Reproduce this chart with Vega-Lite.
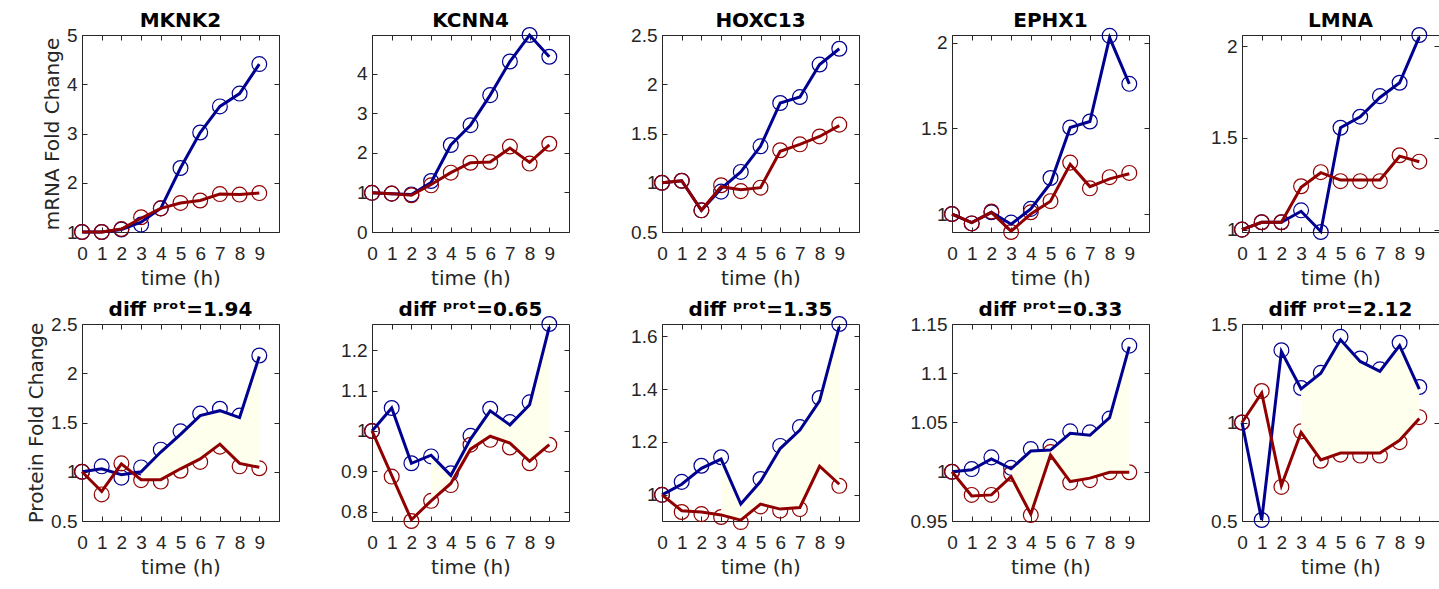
{
  "$schema": "https://vega.github.io/schema/vega-lite/v6.json",
  "padding": {"left": 26, "top": 10, "right": 5, "bottom": 5},
  "config": {
    "font": "Liberation Sans",
    "view": {"stroke": "#262626", "strokeWidth": 1},
    "axis": {
      "domain": false, "grid": false,
      "tickSize": -5, "tickColor": "#262626", "tickWidth": 1,
      "labelFont": "Liberation Sans", "labelFontSize": 19, "labelColor": "#262626",
      "titleFont": "DejaVu Sans", "titleFontSize": 20, "titleFontWeight": "normal", "titleColor": "#262626",
      "labelOverlap": false, "labelFlush": false
    },
    "axisX": {"titlePadding": 5, "labelPadding": 17},
    "axisY": {"titlePadding": 4, "labelPadding": 10},
    "title": {"font": "DejaVu Sans", "fontSize": 20, "fontWeight": "bold", "color": "#000000", "offset": -6}
  },
  "datasets": {
    "m1": [
      {"t":0,"b":1.0,"r":1.0,"bl":1.0,"rl":1.0},
      {"t":1,"b":1.0,"r":1.0,"bl":1.0,"rl":1.0},
      {"t":2,"b":1.05,"r":1.06,"bl":1.05,"rl":1.06},
      {"t":3,"b":1.15,"r":1.30,"bl":1.2,"rl":1.28},
      {"t":4,"b":1.48,"r":1.48,"bl":1.48,"rl":1.48},
      {"t":5,"b":2.30,"r":1.59,"bl":2.30,"rl":1.59},
      {"t":6,"b":3.02,"r":1.64,"bl":3.02,"rl":1.64},
      {"t":7,"b":3.55,"r":1.77,"bl":3.55,"rl":1.77},
      {"t":8,"b":3.81,"r":1.76,"bl":3.81,"rl":1.76},
      {"t":9,"b":4.41,"r":1.79,"bl":4.41,"rl":1.79}
    ],
    "m2": [
      {"t":0,"b":0.99,"r":0.99,"bl":0.99,"rl":0.99},
      {"t":1,"b":0.97,"r":0.97,"bl":0.97,"rl":0.97},
      {"t":2,"b":0.95,"r":0.93,"bl":0.95,"rl":0.93},
      {"t":3,"b":1.29,"r":1.18,"bl":1.25,"rl":1.2},
      {"t":4,"b":2.2,"r":1.50,"bl":2.2,"rl":1.50},
      {"t":5,"b":2.70,"r":1.75,"bl":2.70,"rl":1.75},
      {"t":6,"b":3.46,"r":1.77,"bl":3.46,"rl":1.77},
      {"t":7,"b":4.31,"r":2.16,"bl":4.31,"rl":2.12},
      {"t":8,"b":4.98,"r":1.73,"bl":4.98,"rl":1.76},
      {"t":9,"b":4.43,"r":2.23,"bl":4.43,"rl":2.2}
    ],
    "m3": [
      {"t":0,"b":1.0,"r":1.0,"bl":1.0,"rl":1.0},
      {"t":1,"b":1.02,"r":1.02,"bl":1.02,"rl":1.02},
      {"t":2,"b":0.72,"r":0.72,"bl":0.72,"rl":0.72},
      {"t":3,"b":0.91,"r":0.975,"bl":0.94,"rl":0.96},
      {"t":4,"b":1.11,"r":0.915,"bl":1.11,"rl":0.93},
      {"t":5,"b":1.37,"r":0.95,"bl":1.37,"rl":0.95},
      {"t":6,"b":1.81,"r":1.33,"bl":1.81,"rl":1.32},
      {"t":7,"b":1.87,"r":1.39,"bl":1.87,"rl":1.39},
      {"t":8,"b":2.2,"r":1.47,"bl":2.2,"rl":1.47},
      {"t":9,"b":2.36,"r":1.59,"bl":2.36,"rl":1.58}
    ],
    "m4": [
      {"t":0,"b":1.0,"r":1.0,"bl":1.0,"rl":1.0},
      {"t":1,"b":0.945,"r":0.945,"bl":0.95,"rl":0.95},
      {"t":2,"b":1.01,"r":1.015,"bl":1.01,"rl":1.01},
      {"t":3,"b":0.95,"r":0.895,"bl":0.94,"rl":0.9},
      {"t":4,"b":1.03,"r":1.01,"bl":1.03,"rl":1.0},
      {"t":5,"b":1.21,"r":1.075,"bl":1.18,"rl":1.075},
      {"t":6,"b":1.505,"r":1.30,"bl":1.505,"rl":1.29},
      {"t":7,"b":1.54,"r":1.15,"bl":1.54,"rl":1.16},
      {"t":8,"b":2.04,"r":1.215,"bl":2.03,"rl":1.205},
      {"t":9,"b":1.76,"r":1.24,"bl":1.76,"rl":1.235}
    ],
    "m5": [
      {"t":0,"b":1.0,"r":1.0,"bl":1.0,"rl":1.0},
      {"t":1,"b":1.04,"r":1.04,"bl":1.04,"rl":1.04},
      {"t":2,"b":1.04,"r":1.04,"bl":1.04,"rl":1.04},
      {"t":3,"b":1.105,"r":1.236,"bl":1.1,"rl":1.23},
      {"t":4,"b":0.987,"r":1.313,"bl":0.99,"rl":1.31},
      {"t":5,"b":1.555,"r":1.264,"bl":1.555,"rl":1.27},
      {"t":6,"b":1.615,"r":1.264,"bl":1.615,"rl":1.27},
      {"t":7,"b":1.727,"r":1.264,"bl":1.72,"rl":1.27},
      {"t":8,"b":1.80,"r":1.405,"bl":1.80,"rl":1.40},
      {"t":9,"b":2.06,"r":1.37,"bl":2.05,"rl":1.37}
    ],
    "p1": [
      {"t":0,"b":1.0,"r":1.0,"bl":1.0,"rl":1.0},
      {"t":1,"b":1.055,"r":0.77,"bl":1.03,"rl":0.80},
      {"t":2,"b":0.94,"r":1.085,"bl":0.97,"rl":1.08},
      {"t":3,"b":1.044,"r":0.915,"bl":1.0,"rl":0.92},
      {"t":4,"b":1.224,"r":0.9,"bl":1.2,"rl":0.92},
      {"t":5,"b":1.41,"r":1.01,"bl":1.38,"rl":1.03},
      {"t":6,"b":1.59,"r":1.1,"bl":1.57,"rl":1.13},
      {"t":7,"b":1.64,"r":1.255,"bl":1.62,"rl":1.28},
      {"t":8,"b":1.57,"r":1.055,"bl":1.55,"rl":1.085},
      {"t":9,"b":2.18,"r":1.035,"bl":2.17,"rl":1.045}
    ],
    "p2": [
      {"t":0,"b":1.0,"r":1.0,"bl":1.0,"rl":1.0},
      {"t":1,"b":1.057,"r":0.887,"bl":1.057,"rl":0.89},
      {"t":2,"b":0.92,"r":0.777,"bl":0.92,"rl":0.78},
      {"t":3,"b":0.937,"r":0.827,"bl":0.94,"rl":0.827},
      {"t":4,"b":0.895,"r":0.866,"bl":0.89,"rl":0.87},
      {"t":5,"b":0.988,"r":0.966,"bl":0.98,"rl":0.955},
      {"t":6,"b":1.055,"r":0.978,"bl":1.05,"rl":0.987},
      {"t":7,"b":1.022,"r":0.959,"bl":1.015,"rl":0.97},
      {"t":8,"b":1.071,"r":0.92,"bl":1.065,"rl":0.925},
      {"t":9,"b":1.265,"r":0.966,"bl":1.258,"rl":0.966}
    ],
    "p3": [
      {"t":0,"b":1.0,"r":1.0,"bl":1.0,"rl":1.0},
      {"t":1,"b":1.049,"r":0.935,"bl":1.04,"rl":0.94},
      {"t":2,"b":1.11,"r":0.927,"bl":1.10,"rl":0.935},
      {"t":3,"b":1.142,"r":0.916,"bl":1.135,"rl":0.924},
      {"t":4,"b":null,"r":0.897,"bl":0.965,"rl":0.904},
      {"t":5,"b":1.06,"r":0.956,"bl":1.05,"rl":0.965},
      {"t":6,"b":1.185,"r":0.94,"bl":1.175,"rl":0.946},
      {"t":7,"b":1.256,"r":0.946,"bl":1.245,"rl":0.952},
      {"t":8,"b":1.366,"r":null,"bl":1.355,"rl":1.108},
      {"t":9,"b":1.646,"r":1.034,"bl":1.636,"rl":1.04}
    ],
    "p4": [
      {"t":0,"b":1.0,"r":1.0,"bl":1.0,"rl":1.0},
      {"t":1,"b":1.0027,"r":0.9765,"bl":1.002,"rl":0.9755},
      {"t":2,"b":1.0146,"r":0.9765,"bl":1.013,"rl":0.9765},
      {"t":3,"b":1.004,"r":0.998,"bl":1.003,"rl":0.995},
      {"t":4,"b":1.023,"r":0.956,"bl":1.021,"rl":0.957},
      {"t":5,"b":1.0255,"r":1.02,"bl":1.022,"rl":1.017},
      {"t":6,"b":1.041,"r":0.989,"bl":1.039,"rl":0.99},
      {"t":7,"b":1.04,"r":0.9915,"bl":1.037,"rl":0.9935},
      {"t":8,"b":1.054,"r":0.9995,"bl":1.055,"rl":0.9995},
      {"t":9,"b":1.128,"r":0.9995,"bl":1.127,"rl":0.9995}
    ],
    "p5": [
      {"t":0,"b":1.0,"r":1.0,"bl":1.0,"rl":1.0},
      {"t":1,"b":0.505,"r":1.16,"bl":0.505,"rl":1.15},
      {"t":2,"b":1.367,"r":0.673,"bl":1.36,"rl":0.68},
      {"t":3,"b":1.175,"r":0.955,"bl":1.17,"rl":0.95},
      {"t":4,"b":1.252,"r":0.806,"bl":1.25,"rl":0.81},
      {"t":5,"b":1.435,"r":0.837,"bl":1.42,"rl":0.845},
      {"t":6,"b":1.325,"r":0.832,"bl":1.31,"rl":0.845},
      {"t":7,"b":1.27,"r":0.832,"bl":1.26,"rl":0.845},
      {"t":8,"b":1.405,"r":0.90,"bl":1.39,"rl":0.91},
      {"t":9,"b":1.18,"r":1.027,"bl":1.17,"rl":1.02}
    ]
  },
  "columns": 5,
  "spacing": {"row": 92, "column": 93},
  "bounds": "flush",
  "concat": [
    {
      "width": 197, "height": 197, "data": {"name": "m1"}, "title": "MKNK2",
      "resolve": {"axis": {"x": "independent", "y": "independent"}},
      "layer": [
        {"mark": {"type": "point", "shape": "circle", "filled": false, "size": 220, "strokeWidth": 1.2, "color": "#000090", "opacity": 1},
         "encoding": {"x": {"field": "t", "type": "quantitative", "scale": {"domain": [0, 10], "nice": false}, "axis": {"orient": "bottom", "values": [0,1,2,3,4,5,6,7,8,9], "title": "time (h)", "format": "~g"}},
                      "y": {"field": "b", "type": "quantitative", "scale": {"domain": [1, 5], "nice": false, "zero": false}, "axis": {"orient": "left", "values": [1,2,3,4,5], "title": "mRNA Fold Change", "format": "~g"}}}},
        {"mark": {"type": "point", "shape": "circle", "filled": false, "size": 220, "strokeWidth": 1.2, "color": "#900000", "opacity": 1},
         "encoding": {"x": {"field": "t", "type": "quantitative", "axis": null}, "y": {"field": "r", "type": "quantitative", "axis": null}}},
        {"mark": {"type": "line", "color": "#000090", "strokeWidth": 3}, "encoding": {"x": {"field": "t", "type": "quantitative", "axis": null}, "y": {"field": "bl", "type": "quantitative", "axis": null}}},
        {"mark": {"type": "line", "color": "#900000", "strokeWidth": 3}, "encoding": {"x": {"field": "t", "type": "quantitative", "axis": null}, "y": {"field": "rl", "type": "quantitative", "axis": null}}},
        {"mark": {"type": "point", "opacity": 0}, "encoding": {"x": {"field": "t", "type": "quantitative", "axis": {"orient": "top", "values": [0,1,2,3,4,5,6,7,8,9], "labels": false, "title": null, "minExtent": 10, "maxExtent": 10}}, "y": {"field": "b", "type": "quantitative", "axis": {"orient": "right", "values": [1,2,3,4,5], "labels": false, "title": null}}}}
      ]
    },
    {
      "width": 197, "height": 197, "data": {"name": "m2"}, "title": "KCNN4",
      "resolve": {"axis": {"x": "independent", "y": "independent"}},
      "layer": [
        {"mark": {"type": "point", "shape": "circle", "filled": false, "size": 220, "strokeWidth": 1.2, "color": "#000090", "opacity": 1},
         "encoding": {"x": {"field": "t", "type": "quantitative", "scale": {"domain": [0, 10], "nice": false}, "axis": {"orient": "bottom", "values": [0,1,2,3,4,5,6,7,8,9], "title": "time (h)", "format": "~g"}},
                      "y": {"field": "b", "type": "quantitative", "scale": {"domain": [0, 4.98], "nice": false, "zero": false}, "axis": {"orient": "left", "values": [0,1,2,3,4], "title": null, "format": "~g"}}}},
        {"mark": {"type": "point", "shape": "circle", "filled": false, "size": 220, "strokeWidth": 1.2, "color": "#900000", "opacity": 1},
         "encoding": {"x": {"field": "t", "type": "quantitative", "axis": null}, "y": {"field": "r", "type": "quantitative", "axis": null}}},
        {"mark": {"type": "line", "color": "#000090", "strokeWidth": 3}, "encoding": {"x": {"field": "t", "type": "quantitative", "axis": null}, "y": {"field": "bl", "type": "quantitative", "axis": null}}},
        {"mark": {"type": "line", "color": "#900000", "strokeWidth": 3}, "encoding": {"x": {"field": "t", "type": "quantitative", "axis": null}, "y": {"field": "rl", "type": "quantitative", "axis": null}}},
        {"mark": {"type": "point", "opacity": 0}, "encoding": {"x": {"field": "t", "type": "quantitative", "axis": {"orient": "top", "values": [0,1,2,3,4,5,6,7,8,9], "labels": false, "title": null, "minExtent": 10, "maxExtent": 10}}, "y": {"field": "b", "type": "quantitative", "axis": {"orient": "right", "values": [0,1,2,3,4], "labels": false, "title": null}}}}
      ]
    },
    {
      "width": 197, "height": 197, "data": {"name": "m3"}, "title": "HOXC13",
      "resolve": {"axis": {"x": "independent", "y": "independent"}},
      "layer": [
        {"mark": {"type": "point", "shape": "circle", "filled": false, "size": 220, "strokeWidth": 1.2, "color": "#000090", "opacity": 1},
         "encoding": {"x": {"field": "t", "type": "quantitative", "scale": {"domain": [0, 10], "nice": false}, "axis": {"orient": "bottom", "values": [0,1,2,3,4,5,6,7,8,9], "title": "time (h)", "format": "~g"}},
                      "y": {"field": "b", "type": "quantitative", "scale": {"domain": [0.5, 2.5], "nice": false, "zero": false}, "axis": {"orient": "left", "values": [0.5,1,1.5,2,2.5], "title": null, "format": "~g"}}}},
        {"mark": {"type": "point", "shape": "circle", "filled": false, "size": 220, "strokeWidth": 1.2, "color": "#900000", "opacity": 1},
         "encoding": {"x": {"field": "t", "type": "quantitative", "axis": null}, "y": {"field": "r", "type": "quantitative", "axis": null}}},
        {"mark": {"type": "line", "color": "#000090", "strokeWidth": 3}, "encoding": {"x": {"field": "t", "type": "quantitative", "axis": null}, "y": {"field": "bl", "type": "quantitative", "axis": null}}},
        {"mark": {"type": "line", "color": "#900000", "strokeWidth": 3}, "encoding": {"x": {"field": "t", "type": "quantitative", "axis": null}, "y": {"field": "rl", "type": "quantitative", "axis": null}}},
        {"mark": {"type": "point", "opacity": 0}, "encoding": {"x": {"field": "t", "type": "quantitative", "axis": {"orient": "top", "values": [0,1,2,3,4,5,6,7,8,9], "labels": false, "title": null, "minExtent": 10, "maxExtent": 10}}, "y": {"field": "b", "type": "quantitative", "axis": {"orient": "right", "values": [0.5,1,1.5,2,2.5], "labels": false, "title": null}}}}
      ]
    },
    {
      "width": 197, "height": 197, "data": {"name": "m4"}, "title": "EPHX1",
      "resolve": {"axis": {"x": "independent", "y": "independent"}},
      "layer": [
        {"mark": {"type": "point", "shape": "circle", "filled": false, "size": 220, "strokeWidth": 1.2, "color": "#000090", "opacity": 1},
         "encoding": {"x": {"field": "t", "type": "quantitative", "scale": {"domain": [0, 10], "nice": false}, "axis": {"orient": "bottom", "values": [0,1,2,3,4,5,6,7,8,9], "title": "time (h)", "format": "~g"}},
                      "y": {"field": "b", "type": "quantitative", "scale": {"domain": [0.895, 2.045], "nice": false, "zero": false}, "axis": {"orient": "left", "values": [1,1.5,2], "title": null, "format": "~g"}}}},
        {"mark": {"type": "point", "shape": "circle", "filled": false, "size": 220, "strokeWidth": 1.2, "color": "#900000", "opacity": 1},
         "encoding": {"x": {"field": "t", "type": "quantitative", "axis": null}, "y": {"field": "r", "type": "quantitative", "axis": null}}},
        {"mark": {"type": "line", "color": "#000090", "strokeWidth": 3}, "encoding": {"x": {"field": "t", "type": "quantitative", "axis": null}, "y": {"field": "bl", "type": "quantitative", "axis": null}}},
        {"mark": {"type": "line", "color": "#900000", "strokeWidth": 3}, "encoding": {"x": {"field": "t", "type": "quantitative", "axis": null}, "y": {"field": "rl", "type": "quantitative", "axis": null}}},
        {"mark": {"type": "point", "opacity": 0}, "encoding": {"x": {"field": "t", "type": "quantitative", "axis": {"orient": "top", "values": [0,1,2,3,4,5,6,7,8,9], "labels": false, "title": null, "minExtent": 10, "maxExtent": 10}}, "y": {"field": "b", "type": "quantitative", "axis": {"orient": "right", "values": [1,1.5,2], "labels": false, "title": null}}}}
      ]
    },
    {
      "width": 197, "height": 197, "data": {"name": "m5"}, "title": "LMNA",
      "resolve": {"axis": {"x": "independent", "y": "independent"}},
      "layer": [
        {"mark": {"type": "point", "shape": "circle", "filled": false, "size": 220, "strokeWidth": 1.2, "color": "#000090", "opacity": 1},
         "encoding": {"x": {"field": "t", "type": "quantitative", "scale": {"domain": [0, 10], "nice": false}, "axis": {"orient": "bottom", "values": [0,1,2,3,4,5,6,7,8,9], "title": "time (h)", "format": "~g"}},
                      "y": {"field": "b", "type": "quantitative", "scale": {"domain": [0.987, 2.06], "nice": false, "zero": false}, "axis": {"orient": "left", "values": [1,1.5,2], "title": null, "format": "~g"}}}},
        {"mark": {"type": "point", "shape": "circle", "filled": false, "size": 220, "strokeWidth": 1.2, "color": "#900000", "opacity": 1},
         "encoding": {"x": {"field": "t", "type": "quantitative", "axis": null}, "y": {"field": "r", "type": "quantitative", "axis": null}}},
        {"mark": {"type": "line", "color": "#000090", "strokeWidth": 3}, "encoding": {"x": {"field": "t", "type": "quantitative", "axis": null}, "y": {"field": "bl", "type": "quantitative", "axis": null}}},
        {"mark": {"type": "line", "color": "#900000", "strokeWidth": 3}, "encoding": {"x": {"field": "t", "type": "quantitative", "axis": null}, "y": {"field": "rl", "type": "quantitative", "axis": null}}},
        {"mark": {"type": "point", "opacity": 0}, "encoding": {"x": {"field": "t", "type": "quantitative", "axis": {"orient": "top", "values": [0,1,2,3,4,5,6,7,8,9], "labels": false, "title": null, "minExtent": 10, "maxExtent": 10}}, "y": {"field": "b", "type": "quantitative", "axis": {"orient": "right", "values": [1,1.5,2], "labels": false, "title": null}}}}
      ]
    },
    {
      "width": 197, "height": 197, "data": {"name": "p1"}, "title": "diff ᵖʳᵒᵗ=1.94",
      "resolve": {"axis": {"x": "independent", "y": "independent"}},
      "layer": [
        {"mark": {"type": "point", "shape": "circle", "filled": false, "size": 220, "strokeWidth": 1.2, "color": "#000090", "opacity": 1},
         "encoding": {"x": {"field": "t", "type": "quantitative", "scale": {"domain": [0, 10], "nice": false}, "axis": {"orient": "bottom", "values": [0,1,2,3,4,5,6,7,8,9], "title": "time (h)", "format": "~g"}},
                      "y": {"field": "b", "type": "quantitative", "scale": {"domain": [0.5, 2.5], "nice": false, "zero": false}, "axis": {"orient": "left", "values": [0.5,1,1.5,2,2.5], "title": "Protein Fold Change", "format": "~g"}}}},
        {"mark": {"type": "point", "shape": "circle", "filled": false, "size": 220, "strokeWidth": 1.2, "color": "#900000", "opacity": 1},
         "encoding": {"x": {"field": "t", "type": "quantitative", "axis": null}, "y": {"field": "r", "type": "quantitative", "axis": null}}},
        {"transform": [{"filter": "datum.t >= 3"}], "mark": {"type": "area", "color": "#FFFFEE", "opacity": 1},
         "encoding": {"x": {"field": "t", "type": "quantitative", "axis": null}, "y": {"field": "rl", "type": "quantitative", "axis": null}, "y2": {"field": "bl"}}},
        {"mark": {"type": "line", "color": "#000090", "strokeWidth": 3}, "encoding": {"x": {"field": "t", "type": "quantitative", "axis": null}, "y": {"field": "bl", "type": "quantitative", "axis": null}}},
        {"mark": {"type": "line", "color": "#900000", "strokeWidth": 3}, "encoding": {"x": {"field": "t", "type": "quantitative", "axis": null}, "y": {"field": "rl", "type": "quantitative", "axis": null}}},
        {"mark": {"type": "point", "opacity": 0}, "encoding": {"x": {"field": "t", "type": "quantitative", "axis": {"orient": "top", "values": [0,1,2,3,4,5,6,7,8,9], "labels": false, "title": null, "minExtent": 10, "maxExtent": 10}}, "y": {"field": "b", "type": "quantitative", "axis": {"orient": "right", "values": [0.5,1,1.5,2,2.5], "labels": false, "title": null}}}}
      ]
    },
    {
      "width": 197, "height": 197, "data": {"name": "p2"}, "title": "diff ᵖʳᵒᵗ=0.65",
      "resolve": {"axis": {"x": "independent", "y": "independent"}},
      "layer": [
        {"mark": {"type": "point", "shape": "circle", "filled": false, "size": 220, "strokeWidth": 1.2, "color": "#000090", "opacity": 1},
         "encoding": {"x": {"field": "t", "type": "quantitative", "scale": {"domain": [0, 10], "nice": false}, "axis": {"orient": "bottom", "values": [0,1,2,3,4,5,6,7,8,9], "title": "time (h)", "format": "~g"}},
                      "y": {"field": "b", "type": "quantitative", "scale": {"domain": [0.777, 1.265], "nice": false, "zero": false}, "axis": {"orient": "left", "values": [0.8,0.9,1,1.1,1.2], "title": null, "format": "~g"}}}},
        {"mark": {"type": "point", "shape": "circle", "filled": false, "size": 220, "strokeWidth": 1.2, "color": "#900000", "opacity": 1},
         "encoding": {"x": {"field": "t", "type": "quantitative", "axis": null}, "y": {"field": "r", "type": "quantitative", "axis": null}}},
        {"transform": [{"filter": "datum.t >= 3"}], "mark": {"type": "area", "color": "#FFFFEE", "opacity": 1},
         "encoding": {"x": {"field": "t", "type": "quantitative", "axis": null}, "y": {"field": "rl", "type": "quantitative", "axis": null}, "y2": {"field": "bl"}}},
        {"mark": {"type": "line", "color": "#000090", "strokeWidth": 3}, "encoding": {"x": {"field": "t", "type": "quantitative", "axis": null}, "y": {"field": "bl", "type": "quantitative", "axis": null}}},
        {"mark": {"type": "line", "color": "#900000", "strokeWidth": 3}, "encoding": {"x": {"field": "t", "type": "quantitative", "axis": null}, "y": {"field": "rl", "type": "quantitative", "axis": null}}},
        {"mark": {"type": "point", "opacity": 0}, "encoding": {"x": {"field": "t", "type": "quantitative", "axis": {"orient": "top", "values": [0,1,2,3,4,5,6,7,8,9], "labels": false, "title": null, "minExtent": 10, "maxExtent": 10}}, "y": {"field": "b", "type": "quantitative", "axis": {"orient": "right", "values": [0.8,0.9,1,1.1,1.2], "labels": false, "title": null}}}}
      ]
    },
    {
      "width": 197, "height": 197, "data": {"name": "p3"}, "title": "diff ᵖʳᵒᵗ=1.35",
      "resolve": {"axis": {"x": "independent", "y": "independent"}},
      "layer": [
        {"mark": {"type": "point", "shape": "circle", "filled": false, "size": 220, "strokeWidth": 1.2, "color": "#000090", "opacity": 1},
         "encoding": {"x": {"field": "t", "type": "quantitative", "scale": {"domain": [0, 10], "nice": false}, "axis": {"orient": "bottom", "values": [0,1,2,3,4,5,6,7,8,9], "title": "time (h)", "format": "~g"}},
                      "y": {"field": "b", "type": "quantitative", "scale": {"domain": [0.901, 1.646], "nice": false, "zero": false}, "axis": {"orient": "left", "values": [1,1.2,1.4,1.6], "title": null, "format": "~g"}}}},
        {"mark": {"type": "point", "shape": "circle", "filled": false, "size": 220, "strokeWidth": 1.2, "color": "#900000", "opacity": 1},
         "encoding": {"x": {"field": "t", "type": "quantitative", "axis": null}, "y": {"field": "r", "type": "quantitative", "axis": null}}},
        {"transform": [{"filter": "datum.t >= 3"}], "mark": {"type": "area", "color": "#FFFFEE", "opacity": 1},
         "encoding": {"x": {"field": "t", "type": "quantitative", "axis": null}, "y": {"field": "rl", "type": "quantitative", "axis": null}, "y2": {"field": "bl"}}},
        {"mark": {"type": "line", "color": "#000090", "strokeWidth": 3}, "encoding": {"x": {"field": "t", "type": "quantitative", "axis": null}, "y": {"field": "bl", "type": "quantitative", "axis": null}}},
        {"mark": {"type": "line", "color": "#900000", "strokeWidth": 3}, "encoding": {"x": {"field": "t", "type": "quantitative", "axis": null}, "y": {"field": "rl", "type": "quantitative", "axis": null}}},
        {"mark": {"type": "point", "opacity": 0}, "encoding": {"x": {"field": "t", "type": "quantitative", "axis": {"orient": "top", "values": [0,1,2,3,4,5,6,7,8,9], "labels": false, "title": null, "minExtent": 10, "maxExtent": 10}}, "y": {"field": "bl", "type": "quantitative", "axis": {"orient": "right", "values": [1,1.2,1.4,1.6], "labels": false, "title": null}}}}
      ]
    },
    {
      "width": 197, "height": 197, "data": {"name": "p4"}, "title": "diff ᵖʳᵒᵗ=0.33",
      "resolve": {"axis": {"x": "independent", "y": "independent"}},
      "layer": [
        {"mark": {"type": "point", "shape": "circle", "filled": false, "size": 220, "strokeWidth": 1.2, "color": "#000090", "opacity": 1},
         "encoding": {"x": {"field": "t", "type": "quantitative", "scale": {"domain": [0, 10], "nice": false}, "axis": {"orient": "bottom", "values": [0,1,2,3,4,5,6,7,8,9], "title": "time (h)", "format": "~g"}},
                      "y": {"field": "b", "type": "quantitative", "scale": {"domain": [0.95, 1.15], "nice": false, "zero": false}, "axis": {"orient": "left", "values": [0.95,1,1.05,1.1,1.15], "title": null, "format": "~g"}}}},
        {"mark": {"type": "point", "shape": "circle", "filled": false, "size": 220, "strokeWidth": 1.2, "color": "#900000", "opacity": 1},
         "encoding": {"x": {"field": "t", "type": "quantitative", "axis": null}, "y": {"field": "r", "type": "quantitative", "axis": null}}},
        {"transform": [{"filter": "datum.t >= 3"}], "mark": {"type": "area", "color": "#FFFFEE", "opacity": 1},
         "encoding": {"x": {"field": "t", "type": "quantitative", "axis": null}, "y": {"field": "rl", "type": "quantitative", "axis": null}, "y2": {"field": "bl"}}},
        {"mark": {"type": "line", "color": "#000090", "strokeWidth": 3}, "encoding": {"x": {"field": "t", "type": "quantitative", "axis": null}, "y": {"field": "bl", "type": "quantitative", "axis": null}}},
        {"mark": {"type": "line", "color": "#900000", "strokeWidth": 3}, "encoding": {"x": {"field": "t", "type": "quantitative", "axis": null}, "y": {"field": "rl", "type": "quantitative", "axis": null}}},
        {"mark": {"type": "point", "opacity": 0}, "encoding": {"x": {"field": "t", "type": "quantitative", "axis": {"orient": "top", "values": [0,1,2,3,4,5,6,7,8,9], "labels": false, "title": null, "minExtent": 10, "maxExtent": 10}}, "y": {"field": "b", "type": "quantitative", "axis": {"orient": "right", "values": [0.95,1,1.05,1.1,1.15], "labels": false, "title": null}}}}
      ]
    },
    {
      "width": 197, "height": 197, "data": {"name": "p5"}, "title": "diff ᵖʳᵒᵗ=2.12",
      "resolve": {"axis": {"x": "independent", "y": "independent"}},
      "layer": [
        {"mark": {"type": "point", "shape": "circle", "filled": false, "size": 220, "strokeWidth": 1.2, "color": "#000090", "opacity": 1},
         "encoding": {"x": {"field": "t", "type": "quantitative", "scale": {"domain": [0, 10], "nice": false}, "axis": {"orient": "bottom", "values": [0,1,2,3,4,5,6,7,8,9], "title": "time (h)", "format": "~g"}},
                      "y": {"field": "b", "type": "quantitative", "scale": {"domain": [0.5, 1.5], "nice": false, "zero": false}, "axis": {"orient": "left", "values": [0.5,1,1.5], "title": null, "format": "~g"}}}},
        {"mark": {"type": "point", "shape": "circle", "filled": false, "size": 220, "strokeWidth": 1.2, "color": "#900000", "opacity": 1},
         "encoding": {"x": {"field": "t", "type": "quantitative", "axis": null}, "y": {"field": "r", "type": "quantitative", "axis": null}}},
        {"transform": [{"filter": "datum.t >= 3"}], "mark": {"type": "area", "color": "#FFFFEE", "opacity": 1},
         "encoding": {"x": {"field": "t", "type": "quantitative", "axis": null}, "y": {"field": "rl", "type": "quantitative", "axis": null}, "y2": {"field": "bl"}}},
        {"mark": {"type": "line", "color": "#000090", "strokeWidth": 3}, "encoding": {"x": {"field": "t", "type": "quantitative", "axis": null}, "y": {"field": "bl", "type": "quantitative", "axis": null}}},
        {"mark": {"type": "line", "color": "#900000", "strokeWidth": 3}, "encoding": {"x": {"field": "t", "type": "quantitative", "axis": null}, "y": {"field": "rl", "type": "quantitative", "axis": null}}},
        {"mark": {"type": "point", "opacity": 0}, "encoding": {"x": {"field": "t", "type": "quantitative", "axis": {"orient": "top", "values": [0,1,2,3,4,5,6,7,8,9], "labels": false, "title": null, "minExtent": 10, "maxExtent": 10}}, "y": {"field": "b", "type": "quantitative", "axis": {"orient": "right", "values": [0.5,1,1.5], "labels": false, "title": null}}}}
      ]
    }
  ]
}
